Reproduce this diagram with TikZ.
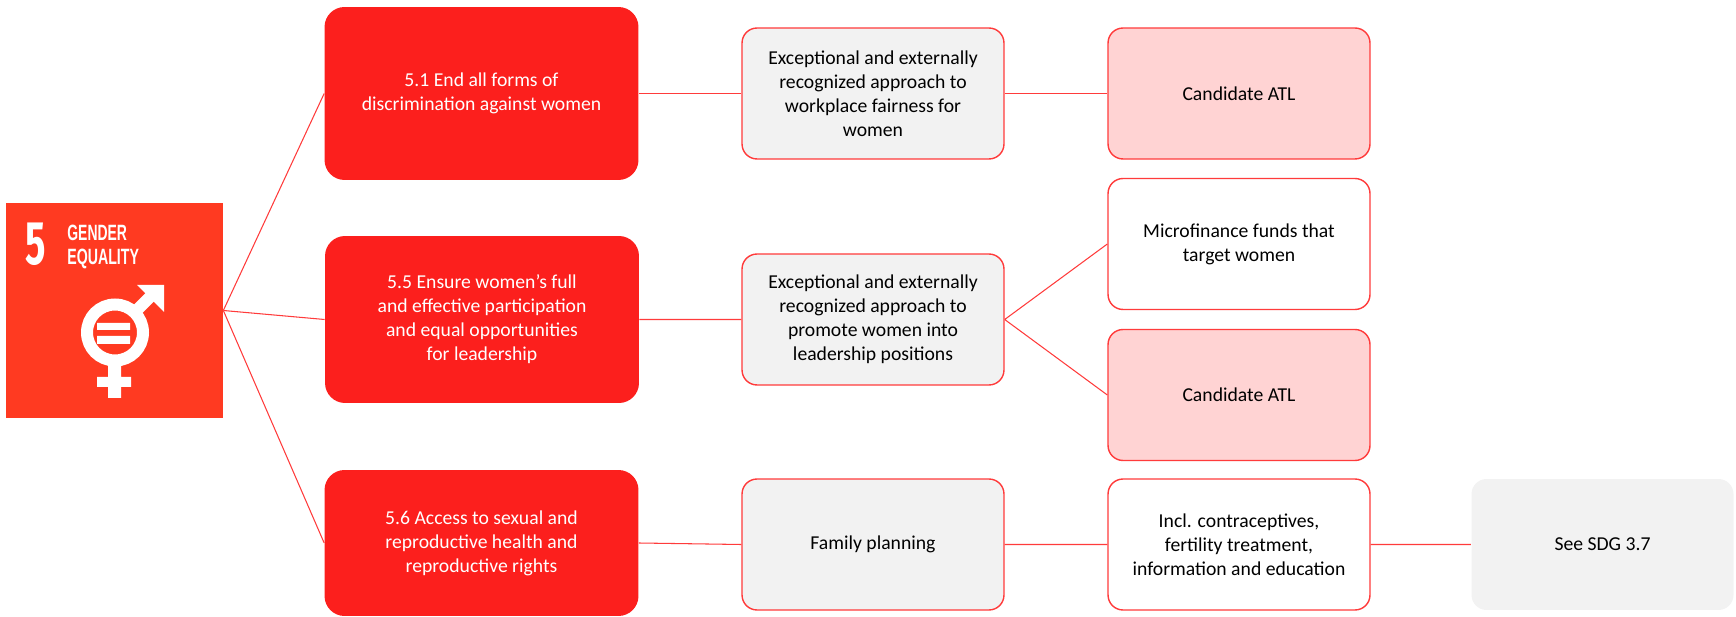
\documentclass[tikz,border=0pt]{standalone}
\usepackage{fontspec}
\setmainfont{Carlito}
\newfontfamily\sdgfont{Fira Sans}
\newfontfamily\sdgnarrow{Liberation Sans}
\definecolor{sdgred}{HTML}{FF3A21}
\definecolor{tgtred}{HTML}{FC1F1D}
\definecolor{lnred}{HTML}{FF3B3B}
\definecolor{boxgray}{HTML}{F2F2F2}
\definecolor{atlpink}{HTML}{FFD3D3}

\begin{document}
\begin{tikzpicture}[x=0.02cm, y=-0.02cm,
  every node/.style={font=\fontsize{11.2}{13.7}\selectfont, align=center, inner sep=0pt},
  target/.style={rounded corners=0.4cm, fill=tgtred, text=white, minimum width=6.28cm},
  box/.style={rounded corners=0.3cm, draw=lnred, line width=0.8pt, minimum width=5.24cm, minimum height=2.62cm},
  kpi/.style={box, fill=boxgray},
  atl/.style={box, fill=atlpink},
  plainbox/.style={box, fill=white},
  seebox/.style={box, draw=none, fill=boxgray},
  link/.style={lnred, line width=0.6pt},
  icontext/.style={text=white, anchor=base west}]
\useasboundingbox (0,0) rectangle (1736,617);

% SDG 5 icon
\node[fill=sdgred, minimum width=4.34cm, minimum height=4.3cm] (sdg) at (114.5,310.5) {};
\node[icontext, font=\sdgfont\bfseries\fontsize{35}{35}\selectfont] (num) at (25,265) {\scalebox{0.62}[1]{5}};
\node[icontext, align=left, font=\sdgnarrow\bfseries\fontsize{12.6}{14.2}\selectfont] (goal) at (67,265)
  {\scalebox{0.63}[1]{GENDER}\\\scalebox{0.64}[1]{EQUALITY}};
\draw[white, line width=0.24cm] (115,332.5) circle (0.56cm);
\fill[white] (97,323) rectangle (130,330) (97,336) rectangle (130,344);
\fill[white] (108,362) rectangle (121,398) (97,377) rectangle (131,387);
\draw[white, line width=0.24cm] (136,311) -- (155,292);
\fill[white] (137,285) -- (164,285) -- (164,312) -- cycle;

% targets
\node[target, minimum height=3.46cm] (t51) at (481.5,93.5) {5.1 End all forms of\\discrimination against women};
\node[target, minimum height=3.34cm] (t55) at (482,319.5) {5.5 Ensure women’s full\\and effective participation\\and equal opportunities\\for leadership};
\node[target, minimum height=2.92cm] (t56) at (481.5,543) {5.6 Access to sexual and\\reproductive health and\\reproductive rights};

% indicators
\node[kpi] (m1) at (873,93.5) {Exceptional and externally\\recognized approach to\\workplace fairness for\\women};
\node[kpi] (m2) at (873,319.5) {Exceptional and externally\\recognized approach to\\promote women into\\leadership positions};
\node[kpi] (m3) at (873,544.5) {Family planning};

\node[atl] (r1) at (1239,93.5) {Candidate ATL};
\node[plainbox] (r2) at (1239,244) {Microfinance funds that\\target women};
\node[atl] (r3) at (1239,395) {Candidate ATL};
\node[plainbox] (r4) at (1239,544.5) {Incl. contraceptives,\\fertility treatment,\\information and education};
\node[seebox] (sdg37) at (1602.5,544.5) {See SDG 3.7};

\draw[link] (sdg.east) -- (t51.west);
\draw[link] (sdg.east) -- (t55.west);
\draw[link] (sdg.east) -- (t56.west);
\draw[link] (t51.east) -- (m1.west) (m1.east) -- (r1.west);
\draw[link] (t55.east) -- (m2.west) (m2.east) -- (r2.west) (m2.east) -- (r3.west);
\draw[link] (t56.east) -- (m3.west) (m3.east) -- (r4.west) (r4.east) -- (sdg37.west);
\end{tikzpicture}
\end{document}
